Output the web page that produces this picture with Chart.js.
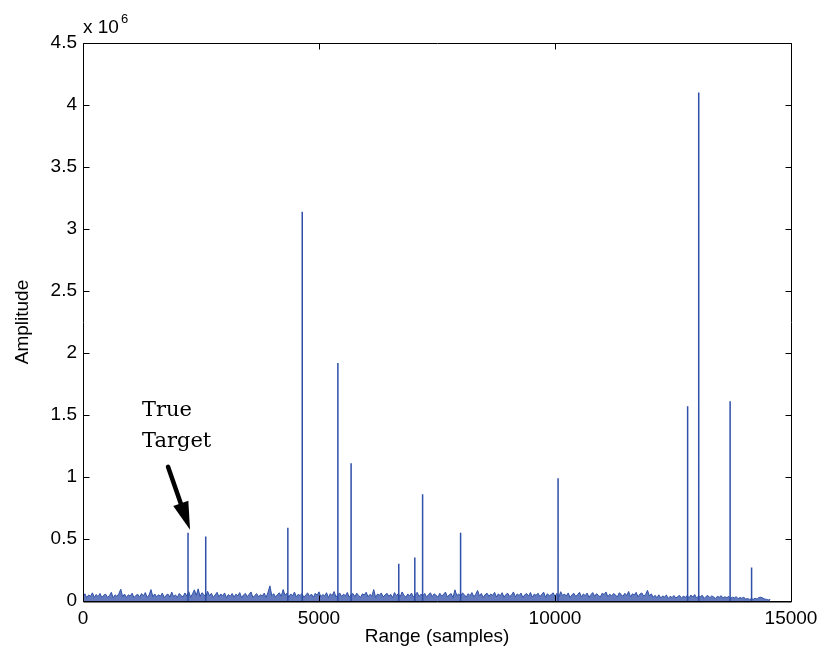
<!DOCTYPE html>
<html lang="en">
  <head>
    <meta charset="UTF-8" />
    <title>Range profile</title>
    <script src="https://cdn.jsdelivr.net/npm/chart.js"></script>
    <style>
      html, body {
        margin: 0;
        padding: 0;
        background: #fff;
      }
      canvas {
        display: block;
      }
    </style>
  </head>
  <body>
    <canvas id="myChart" width="825" height="661"></canvas>
  </body>
  <script>
    // strong returns: range bin (samples) and amplitude (x 10^6)
    const peakX = [2225, 2600, 4340, 4645, 5400, 5680, 6690, 7030, 7195, 8000, 10065, 12810, 13045, 13710, 14165];
    const peakY = [0.55, 0.52, 0.59, 3.14, 1.92, 1.11, 0.30, 0.35, 0.86, 0.55, 0.99, 1.57, 4.10, 1.61, 0.27];

    // clutter floor, one value every 40 samples, in thousands (x 10^3)
    const noiseStep = 40;
    const noiseK = [
      32, 58, 26, 49, 38, 66, 29, 52, 35, 61, 27, 47, 55, 30, 44, 70, 25, 50, 36, 59,
      95, 34, 56, 28, 50, 39, 63, 27, 45, 54, 31, 60, 41, 68, 29, 48, 92, 35, 57, 33,
      51, 38, 64, 27, 46, 56, 32, 72, 36, 49, 28, 61, 43, 34, 65, 40, 76, 30, 58, 90,
      45, 98, 37, 67, 53, 33, 78, 42, 62, 29, 50, 70, 34, 57, 41, 65, 27, 52, 37, 60,
      31, 55, 42, 68, 27, 49, 61, 35, 54, 73, 29, 45, 59, 33, 51, 40, 64, 28, 70, 122,
      43, 59, 31, 52, 66, 38, 92, 46, 63, 30, 57, 41, 72, 33, 54, 44, 61, 27, 50, 65,
      37, 56, 29, 62, 46, 74, 34, 53, 40, 67, 27, 59, 43, 76, 32, 51, 64, 36, 55, 42,
      69, 31, 52, 60, 35, 63, 44, 30, 58, 48, 71, 33, 54, 39, 92, 28, 56, 46, 65, 32,
      50, 62, 38, 54, 27, 68, 43, 59, 34, 73, 47, 30, 57, 40, 64, 32, 53, 70, 36, 55,
      41, 61, 29, 52, 66, 35, 58, 46, 31, 63, 39, 55, 72, 33, 50, 60, 27, 90, 44, 57,
      37, 65, 51, 31, 59, 43, 68, 34, 54, 85, 40, 61, 28, 52, 63, 38, 56, 45, 70, 32,
      58, 41, 67, 30, 53, 62, 36, 50, 73, 33, 57, 44, 64, 27, 51, 60, 39, 69, 31, 55,
      46, 63, 35, 54, 71, 29, 59, 42, 52, 66, 37, 61, 31, 75, 44, 56, 40, 65, 28, 51,
      62, 36, 53, 70, 32, 57, 43, 64, 30, 51, 68, 38, 59, 45, 33, 63, 52, 73, 35, 55,
      41, 60, 50, 31, 66, 54, 37, 62, 44, 77, 33, 58, 49, 70, 32, 56, 65, 39, 53, 86,
      40, 58, 30, 46, 26, 50, 23, 41, 33, 48, 20, 38, 28, 44, 24, 36, 45, 22, 40, 30,
      43, 26, 48, 32, 52, 23, 40, 35, 46, 21, 37, 44, 27, 41, 33, 20, 38, 30, 43, 25,
      34, 27, 38, 21, 31, 25, 35, 19, 28, 22, 30, 16, 20, 13, 17, 14, 22, 15, 28, 30,
      24, 17, 13, 9, 12,
    ];

    const xTicks = [0, 5000, 10000, 15000];
    const yTicks = [0, 0.5, 1, 1.5, 2, 2.5, 3, 3.5, 4, 4.5];
    const targetIdx = 0; // "True Target" is the first return

    const lineColor = "#2f4fa8";
    const tickFont = { family: "'Liberation Sans', Arial, sans-serif", size: 19 };

    const noisePts = noiseK.map((v, i) => ({ x: i * noiseStep, y: v / 1000 }));
    // each return is a vertical stroke, broken by a null so they don't join
    const peakPts = [];
    peakX.forEach((x, i) => {
      peakPts.push({ x: x, y: 0 }, { x: x, y: peakY[i] }, { x: x, y: null });
    });

    // matlab-ish box, inward ticks, exponent and the arrow note
    const matlabBox = {
      id: "matlabBox",
      afterDraw(chart) {
        const c = chart.ctx;
        const a = chart.chartArea;
        const xs = chart.scales.x;
        const ys = chart.scales.y;
        const L = Math.round(a.left) + 0.5;
        const R = Math.round(a.right) + 0.5;
        const T = Math.round(a.top) + 0.5;
        const B = Math.round(a.bottom) + 0.5;
        c.save();
        c.strokeStyle = "#000";
        c.lineWidth = 1;
        c.beginPath();
        c.rect(L, T, R - L, B - T);
        xTicks.forEach((v) => {
          const px = Math.round(xs.getPixelForValue(v)) + 0.5;
          c.moveTo(px, B);
          c.lineTo(px, B - 6);
          c.moveTo(px, T);
          c.lineTo(px, T + 6);
        });
        yTicks.forEach((v) => {
          const py = Math.round(ys.getPixelForValue(v)) + 0.5;
          c.moveTo(L, py);
          c.lineTo(L + 6, py);
          c.moveTo(R, py);
          c.lineTo(R - 6, py);
        });
        c.stroke();
        // bottom axis a touch heavier, like the reference
        c.beginPath();
        c.moveTo(L, B + 0.5);
        c.lineTo(R, B + 0.5);
        c.stroke();

        // x 10^6
        c.fillStyle = "#000";
        c.textBaseline = "alphabetic";
        c.textAlign = "left";
        c.font = "19px 'Liberation Sans', Arial, sans-serif";
        c.fillText("x 10", a.left, a.top - 10);
        const w = c.measureText("x 10").width;
        c.font = "13px 'Liberation Sans', Arial, sans-serif";
        c.fillText("6", a.left + w + 2, a.top - 20);

        // True Target arrow
        const tipX = xs.getPixelForValue(peakX[targetIdx]) + 2;
        const tipY = ys.getPixelForValue(peakY[targetIdx]) - 3;
        const tailX = tipX - 22;
        const tailY = tipY - 63;
        const ang = Math.atan2(tipY - tailY, tipX - tailX);
        const headLen = 28;
        const baseX = tipX - headLen * Math.cos(ang);
        const baseY = tipY - headLen * Math.sin(ang);
        c.strokeStyle = "#000";
        c.lineWidth = 4.5;
        c.lineCap = "round";
        c.beginPath();
        c.moveTo(tailX, tailY);
        c.lineTo(baseX + 4 * Math.cos(ang), baseY + 4 * Math.sin(ang));
        c.stroke();
        c.beginPath();
        c.moveTo(tipX, tipY);
        c.lineTo(baseX + 8 * Math.sin(ang), baseY - 8 * Math.cos(ang));
        c.lineTo(baseX - 8 * Math.sin(ang), baseY + 8 * Math.cos(ang));
        c.closePath();
        c.fill();

        c.font = "21px 'DejaVu Serif', serif";
        c.fillText("True", tipX - 48, tipY - 114);
        c.fillText("Target", tipX - 48, tipY - 83);
        c.restore();
      },
    };

    const ctx = document.getElementById("myChart");
    const myChart = new Chart(ctx, {
      type: "line",
      data: {
        datasets: [
          {
            label: "clutter",
            data: noisePts,
            borderColor: lineColor,
            backgroundColor: "rgba(47, 79, 168, 0.75)",
            fill: "origin",
            borderWidth: 1,
            pointRadius: 0,
            tension: 0,
          },
          {
            label: "returns",
            data: peakPts,
            borderColor: lineColor,
            borderWidth: 1.5,
            pointRadius: 0,
            tension: 0,
            spanGaps: false,
          },
        ],
      },
      options: {
        responsive: false,
        animation: false,
        devicePixelRatio: 1,
        layout: { padding: { top: 43, right: 34, left: 0, bottom: 0 } },
        plugins: {
          legend: { display: false },
          tooltip: { enabled: false },
        },
        scales: {
          x: {
            type: "linear",
            min: 0,
            max: 15000,
            afterFit: (s) => {
              s.height = 60;
            },
            afterBuildTicks: (s) => {
              s.ticks = xTicks.map((v) => ({ value: v }));
            },
            ticks: {
              color: "#000",
              font: tickFont,
              padding: 6,
              maxRotation: 0,
              callback: (v) => String(v),
            },
            grid: { display: false, drawTicks: false },
            border: { display: false },
            title: {
              display: true,
              text: "Range (samples)",
              color: "#000",
              font: tickFont,
              padding: { top: 0, bottom: 13 },
            },
          },
          y: {
            min: 0,
            max: 4.5,
            afterFit: (s) => {
              s.width = 83;
            },
            afterBuildTicks: (s) => {
              s.ticks = yTicks.map((v) => ({ value: v }));
            },
            ticks: {
              color: "#000",
              font: tickFont,
              padding: 6,
              callback: (v) => String(v),
            },
            grid: { display: false, drawTicks: false },
            border: { display: false },
            title: {
              display: true,
              text: "Amplitude",
              color: "#000",
              font: tickFont,
              padding: { top: 11, bottom: 0 },
            },
          },
        },
      },
      plugins: [matlabBox],
    });
  </script>
</html>
